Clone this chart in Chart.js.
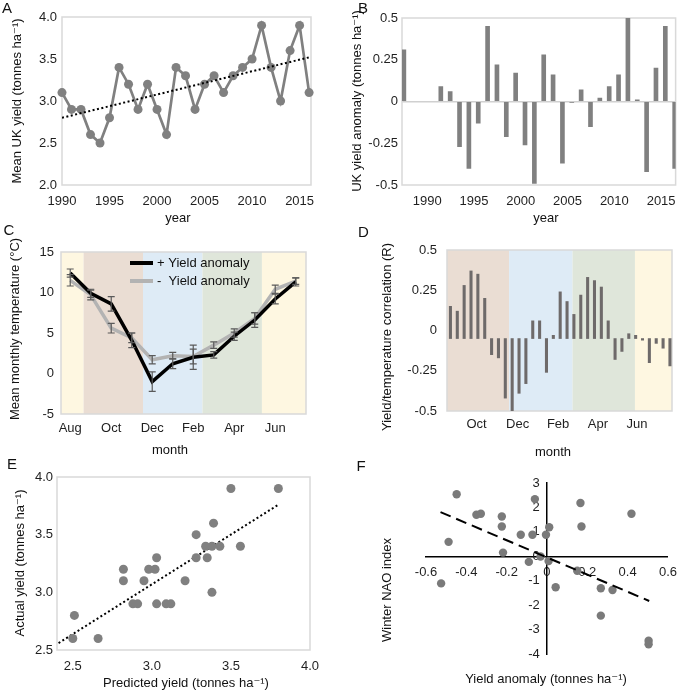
<!DOCTYPE html>
<html>
<head>
<meta charset="utf-8">
<script src="https://cdn.jsdelivr.net/npm/chart.js@4.4.0/dist/chart.umd.min.js"></script>
<style>
  html, body { margin: 0; padding: 0; background: #fff; }
  #wrap { position: relative; width: 685px; height: 691px; }
  canvas { position: absolute; left: 0; top: 0; }
</style>
</head>
<body>
<div id="wrap">
  <canvas id="cA" width="685" height="691"></canvas>
  <canvas id="cB" width="685" height="691"></canvas>
  <canvas id="cC" width="685" height="691"></canvas>
  <canvas id="cD" width="685" height="691"></canvas>
  <canvas id="cE" width="685" height="691"></canvas>
  <canvas id="cF" width="685" height="691"></canvas>
</div>
<script>
// ---- data ----
// A: mean UK yield per year
const years = [1990, 1991, 1992, 1993, 1994, 1995, 1996, 1997, 1998, 1999, 2000, 2001, 2002, 2003,
               2004, 2005, 2006, 2007, 2008, 2009, 2010, 2011, 2012, 2013, 2014, 2015, 2016];
const meanYield = [3.1, 2.9, 2.9, 2.6, 2.5, 2.8, 3.4, 3.2, 2.9, 3.2, 2.9, 2.6, 3.4, 3.3,
                   2.9, 3.2, 3.3, 3.1, 3.3, 3.4, 3.5, 3.9, 3.4, 3.0, 3.6, 3.9, 3.1];
const yieldTrend = [2.8, 3.52];           // trend at first and last year
const yearTicks = [1990, 1995, 2000, 2005, 2010, 2015];

// B: yield anomaly per year
const yieldAnomaly = [0.31, 0.09, 0.06, -0.27, -0.40, -0.13, 0.45, 0.22, -0.21, 0.17, -0.26, -0.49, 0.28, 0.16,
                      -0.37, -0.005, 0.07, -0.15, 0.02, 0.09, 0.16, 0.50, 0.01, -0.42, 0.20, 0.45, -0.40];
const bXMin = 1986.85, bXMax = 2016.1;

// C: mean monthly temperature, years with + / - yield anomaly
const months = ['Aug', 'Sep', 'Oct', 'Nov', 'Dec', 'Jan', 'Feb', 'Mar', 'Apr', 'May', 'Jun', 'Jul'];
const seriesNames = ['+ Yield anomaly', '-  Yield anomaly'];
const tempPos = [12.4, 9.9, 8.6, 4.1, -1.0, 1.2, 2.0, 2.3, 4.6, 6.6, 9.2, 11.3];
const tempPosErr = [0.5, 0.5, 0.9, 0.9, 1.2, 0.6, 1.5, 0.4, 0.5, 0.9, 0.6, 0.5];
const tempNeg = [11.5, 9.7, 5.6, 4.4, 1.7, 2.2, 2.1, 3.5, 5.0, 6.8, 10.4, 11.4];
const tempNegErr = [0.7, 0.6, 0.6, 0.6, 0.5, 0.4, 0.9, 0.4, 0.5, 0.7, 0.5, 0.4];
const cSeasonEdges = [-0.45, 0.65, 3.55, 6.45, 9.35, 11.5];

// D: yield / temperature correlation per 10-day period (Sep..Jul)
const dekadCorr = [0.20, 0.17, 0.33, 0.42, 0.40, 0.25, -0.10, -0.12, -0.37, -0.45, -0.34, -0.28,
                   0.11, 0.11, -0.21, 0.02, 0.29, 0.23, 0.15, 0.27, 0.38, 0.36, 0.32, 0.11,
                   -0.13, -0.08, 0.03, 0.02, -0.01, -0.15, -0.03, -0.06, -0.17];
const dMonths = ['Oct', 'Dec', 'Feb', 'Apr', 'Jun'];
const dMonthPos = [3.8, 9.8, 15.7, 21.5, 27.2];
const dSeasonEdges = [-0.5, 8.55, 17.8, 26.9, 32.3];

// E: predicted vs actual yield
const predicted = [2.51, 2.50, 2.66, 2.82, 2.82, 2.88, 2.91, 2.95, 2.98, 3.02, 3.03, 3.03, 3.09,
                   3.12, 3.21, 3.28, 3.28, 3.34, 3.35, 3.38, 3.38, 3.39, 3.43, 3.50, 3.56, 3.80];
const actual = [2.8, 2.6, 2.6, 3.1, 3.2, 2.9, 2.9, 3.1, 3.2, 3.2, 3.3, 2.9, 2.9,
                2.9, 3.1, 3.5, 3.3, 3.4, 3.3, 3.4, 3.0, 3.6, 3.4, 3.9, 3.4, 3.9];
const eFitX = [2.41, 3.80], eFitY = [2.56, 3.76];
const eTicksX = [2.5, 3.0, 3.5, 4.0];

// F: yield anomaly vs winter NAO
const fAnom = [-0.525, -0.488, -0.448, -0.35, -0.328, -0.224, -0.224, -0.218, -0.13, -0.072, -0.09, -0.06, -0.032,
               -0.005, 0.011, 0.008, 0.043, 0.15, 0.166, 0.171, 0.267, 0.325, 0.267, 0.419, 0.504, 0.504];
const nao = [-1.11, 0.59, 2.54, 1.70, 1.74, 1.63, 1.22, 0.15, 0.88, 0.88, -0.23, 2.34, -0.01,
             0.88, 1.19, -0.19, -1.27, -0.59, 2.18, 1.22, -1.31, -1.38, -2.43, 1.74, -3.46, -3.60];
const fFitX = [-0.528, 0.507], fFitY = [1.81, -1.83];

// ---- setup ----
const FONT = '"Liberation Sans", Arial, "DejaVu Sans", sans-serif';
const GRAY = '#808080', FRAME = '#d9d9d9';
const SEASON = { sum: '#fef7e1', aut: '#eaddd3', win: '#deebf6', spr: '#dfe6da' };
Chart.defaults.font.family = FONT;
Chart.defaults.font.size = 13;
Chart.defaults.color = '#1f1f1f';
Chart.defaults.animation = false;
Chart.defaults.responsive = false;
Chart.defaults.devicePixelRatio = 1;
Chart.defaults.events = [];
Chart.defaults.plugins.legend.display = false;
Chart.defaults.plugins.tooltip.enabled = false;

const W = 685, H = 691;
const YW = 40, XH = 28;      // fixed axis box sizes
// chart area given in page pixels -> layout padding
function area(l, t, r, b) { return { left: l - YW, top: t, right: W - r, bottom: H - b - XH }; }
const noGrid = { display: false, drawTicks: false };
const fixW = s => { s.width = YW; };
const fixH = s => { s.height = XH; };
const pts = (xs, ys) => xs.map((x, i) => ({ x, y: ys[i] }));
const UP = -Math.PI / 2;

// backgrounds, frame, error bars, free text, legend
const deco = {
  id: 'deco',
  beforeDatasetsDraw(chart, args, o) {
    const { ctx, chartArea: a, scales: { x } } = chart;
    ctx.save();
    if (o.bands) {
      o.bands.edges.slice(0, -1).forEach((e, i) => {
        const x0 = x.getPixelForValue(e), x1 = x.getPixelForValue(o.bands.edges[i + 1]);
        ctx.fillStyle = o.bands.colors[i];
        ctx.fillRect(x0, a.top, x1 - x0, a.bottom - a.top);
      });
    }
    if (o.frame) {
      ctx.strokeStyle = o.frame;
      ctx.lineWidth = 1.5;
      ctx.strokeRect(a.left, a.top, a.right - a.left, a.bottom - a.top);
    }
    ctx.restore();
  },
  afterDatasetsDraw(chart, args, o) {
    if (!o.errors) return;
    const { ctx, scales: { x, y } } = chart;
    ctx.save();
    ctx.strokeStyle = '#5a5a5a';
    ctx.lineWidth = 1.2;
    o.errors.forEach(s => s.values.forEach((v, i) => {
      const px = x.getPixelForValue(i);
      const lo = y.getPixelForValue(v - s.err[i]), hi = y.getPixelForValue(v + s.err[i]);
      ctx.beginPath();
      ctx.moveTo(px, lo); ctx.lineTo(px, hi);
      ctx.moveTo(px - 3.5, lo); ctx.lineTo(px + 3.5, lo);
      ctx.moveTo(px - 3.5, hi); ctx.lineTo(px + 3.5, hi);
      ctx.stroke();
    }));
    ctx.restore();
  },
  afterDraw(chart, args, o) {
    const { ctx } = chart;
    (o.texts || []).forEach(t => {
      ctx.save();
      ctx.font = (t.size || 13) + 'px ' + FONT;
      ctx.fillStyle = '#111';
      ctx.textAlign = 'center';
      ctx.textBaseline = 'middle';
      ctx.translate(t.x, t.y);
      if (t.rot) ctx.rotate(t.rot);
      ctx.fillText(t.text, 0, 0);
      ctx.restore();
    });
    if (o.legend) {
      const L = o.legend;
      chart.data.datasets.forEach((ds, i) => {
        const y = L.y + i * L.gap;
        ctx.save();
        ctx.strokeStyle = ds.borderColor;
        ctx.lineWidth = 4;
        ctx.beginPath(); ctx.moveTo(L.x, y); ctx.lineTo(L.x + 23, y); ctx.stroke();
        ctx.font = '13px ' + FONT;
        ctx.fillStyle = '#111';
        ctx.textBaseline = 'middle';
        ctx.fillText(ds.label, L.x + 27, y);
        ctx.restore();
      });
    }
  }
};
Chart.register(deco);

// ---- A ----
new Chart(document.getElementById('cA'), {
  type: 'line',
  data: {
    datasets: [
      { data: [{ x: years[0], y: yieldTrend[0] }, { x: years[years.length - 1], y: yieldTrend[1] }],
        borderColor: '#000', borderWidth: 2, borderDash: [2, 2.5], pointRadius: 0 },
      { data: pts(years, meanYield), borderColor: GRAY, backgroundColor: GRAY, borderWidth: 2.7,
        pointRadius: 4.5, pointBorderWidth: 0, tension: 0, clip: false }
    ]
  },
  options: {
    layout: { padding: area(62, 17, 311, 185) },
    scales: {
      x: { type: 'linear', min: 1990, max: 2016.2, grid: noGrid, border: { display: false },
           ticks: { padding: 9, maxRotation: 0, autoSkip: false, callback: v => String(v) },
           afterBuildTicks: s => { s.ticks = yearTicks.map(v => ({ value: v })); }, afterFit: fixH },
      y: { min: 2, max: 4, grid: noGrid, border: { display: false },
           ticks: { stepSize: 0.5, padding: 5, callback: v => v.toFixed(1) }, afterFit: fixW }
    },
    plugins: { deco: { frame: FRAME, texts: [
      { text: 'A', x: 7, y: 8.5, size: 15 },
      { text: 'Mean UK yield (tonnes ha⁻¹)', x: 17, y: 101, rot: UP },
      { text: 'year', x: 178, y: 218 }
    ] } }
  }
});

// ---- B ----
// the source draws its 1990 bar against the left axis
const bBarX = years.map((y, i) => (i === 0 ? bXMin + 0.2 : y));
new Chart(document.getElementById('cB'), {
  type: 'bar',
  data: { datasets: [{ data: pts(bBarX, yieldAnomaly), backgroundColor: GRAY, barThickness: 4 }] },
  options: {
    layout: { padding: area(402, 18, 677, 185) },
    scales: {
      x: { type: 'linear', min: bXMin, max: bXMax, offset: false, grid: { display: false, drawTicks: false, offset: false },
           border: { display: false },
           ticks: { padding: 9, maxRotation: 0, autoSkip: false, callback: (v, i) => String(yearTicks[i]) },
           afterBuildTicks: s => { s.ticks = yearTicks.map(v => ({ value: v - 0.45 })); }, afterFit: fixH },
      y: { min: -0.5, max: 0.5, border: { display: false },
           grid: { display: true, drawTicks: false, lineWidth: 1.5,
                   color: c => (c.tick && c.tick.value === 0 ? '#d0d0d0' : 'rgba(0,0,0,0)') },
           ticks: { stepSize: 0.25, padding: 4, callback: v => String(v) }, afterFit: fixW }
    },
    plugins: { deco: { frame: FRAME, texts: [
      { text: 'B', x: 363, y: 9, size: 15 },
      { text: 'UK yield anomaly (tonnes ha⁻¹)', x: 357, y: 101, rot: UP },
      { text: 'year', x: 546, y: 218 }
    ] } }
  }
});

// ---- C ----
const monthIdx = months.map((m, i) => i);
new Chart(document.getElementById('cC'), {
  type: 'line',
  data: {
    datasets: [
      { label: seriesNames[0], data: pts(monthIdx, tempPos), borderColor: '#000', borderWidth: 3.5, pointRadius: 0, tension: 0 },
      { label: seriesNames[1], data: pts(monthIdx, tempNeg), borderColor: '#b3b3b3', borderWidth: 3.5, pointRadius: 0, tension: 0 }
    ]
  },
  options: {
    layout: { padding: area(61, 252, 306, 414) },
    scales: {
      x: { type: 'linear', min: cSeasonEdges[0], max: cSeasonEdges[cSeasonEdges.length - 1], grid: noGrid, border: { display: false },
           ticks: { padding: 6.5, maxRotation: 0, autoSkip: false, callback: v => months[v] },
           afterBuildTicks: s => { s.ticks = monthIdx.filter(i => i % 2 === 0).map(v => ({ value: v })); }, afterFit: fixH },
      y: { min: -5, max: 15, grid: noGrid, border: { display: false },
           ticks: { stepSize: 5, padding: 7 }, afterFit: fixW }
    },
    plugins: { deco: {
      frame: FRAME,
      bands: { edges: cSeasonEdges, colors: [SEASON.sum, SEASON.aut, SEASON.win, SEASON.spr, SEASON.sum] },
      errors: [{ values: tempPos, err: tempPosErr }, { values: tempNeg, err: tempNegErr }],
      legend: { x: 130, y: 263, gap: 18 },
      texts: [
        { text: 'C', x: 9, y: 231, size: 15 },
        { text: 'Mean monthly temperature (°C)', x: 15, y: 329, rot: UP },
        { text: 'month', x: 170, y: 450 }
      ] } }
  }
});

// ---- D ----
new Chart(document.getElementById('cD'), {
  type: 'bar',
  data: { datasets: [{ data: pts(dekadCorr.map((v, i) => i), dekadCorr), backgroundColor: '#6e6a6a',
                       barThickness: 2.4, yAxisID: 'yBar' }] },
  options: {
    layout: { padding: area(447, 250, 672, 411) },
    scales: {
      x: { type: 'linear', min: dSeasonEdges[0], max: dSeasonEdges[dSeasonEdges.length - 1], offset: false,
           grid: { display: false, drawTicks: false, offset: false }, border: { display: false },
           ticks: { padding: 6, maxRotation: 0, autoSkip: false, callback: (v, i) => dMonths[i] },
           afterBuildTicks: s => { s.ticks = dMonthPos.map(v => ({ value: v })); }, afterFit: fixH },
      y: { min: -0.5, max: 0.5, grid: noGrid, border: { display: false },
           ticks: { stepSize: 0.25, padding: 10, callback: v => String(v) }, afterFit: fixW },
      yBar: { display: false, min: -0.45, max: 0.55 }
    },
    plugins: { deco: {
      frame: FRAME,
      bands: { edges: dSeasonEdges, colors: [SEASON.aut, SEASON.win, SEASON.spr, SEASON.sum] },
      texts: [
        { text: 'D', x: 363.5, y: 232.5, size: 15 },
        { text: 'Yield/temperature correlation (R)', x: 387, y: 337, rot: UP },
        { text: 'month', x: 553, y: 452 }
      ] } }
  }
});

// ---- E ----
new Chart(document.getElementById('cE'), {
  type: 'scatter',
  data: {
    datasets: [
      { data: pts(predicted, actual), backgroundColor: GRAY, pointRadius: 4.5, pointBorderWidth: 0, clip: false },
      { data: pts(eFitX, eFitY), showLine: true, borderColor: '#000', borderWidth: 2, borderDash: [2, 2.5], pointRadius: 0 }
    ]
  },
  options: {
    layout: { padding: area(57, 477, 310, 650) },
    scales: {
      x: { min: 2.4, max: 4.0, grid: noGrid, border: { display: false },
           ticks: { padding: 9, maxRotation: 0, autoSkip: false, callback: v => v.toFixed(1) },
           afterBuildTicks: s => { s.ticks = eTicksX.map(v => ({ value: v })); }, afterFit: fixH },
      y: { min: 2.5, max: 4.0, grid: noGrid, border: { display: false },
           ticks: { stepSize: 0.5, padding: 4, callback: v => v.toFixed(1) }, afterFit: fixW }
    },
    plugins: { deco: { frame: FRAME, texts: [
      { text: 'E', x: 12, y: 464.5, size: 15 },
      { text: 'Actual yield (tonnes ha⁻¹)', x: 20, y: 563, rot: UP },
      { text: 'Predicted yield (tonnes ha⁻¹)', x: 186, y: 683 }
    ] } }
  }
});

// ---- F ----  (axes cross at zero, so they take no room of their own)
new Chart(document.getElementById('cF'), {
  type: 'scatter',
  data: {
    datasets: [
      { data: pts(fFitX, fFitY), showLine: true, borderColor: '#000', borderWidth: 2, borderDash: [11, 6], pointRadius: 0 },
      { data: pts(fAnom, nao), backgroundColor: '#7a7a7a', pointRadius: 4.2, pointBorderWidth: 0, clip: false }
    ]
  },
  options: {
    layout: { padding: { left: 426, top: 483, right: W - 676, bottom: H - 654 } },
    scales: {
      x: { min: -0.6, max: 0.6, position: { y: 0 }, grid: noGrid, border: { color: '#000', width: 1.5 },
           ticks: { stepSize: 0.2, padding: 8, maxRotation: 0, autoSkip: false } },
      y: { min: -4, max: 3, position: { x: 0 }, grid: noGrid, border: { color: '#000', width: 1.5 },
           ticks: { stepSize: 1, padding: 10, callback: v => v + '  ' } }
    },
    plugins: { deco: { texts: [
      { text: 'F', x: 361, y: 467, size: 15 },
      { text: 'Winter NAO index', x: 387.5, y: 590, rot: UP },
      { text: 'Yield anomaly (tonnes ha⁻¹)', x: 546, y: 679 }
    ] } }
  }
});
</script>
</body>
</html>
